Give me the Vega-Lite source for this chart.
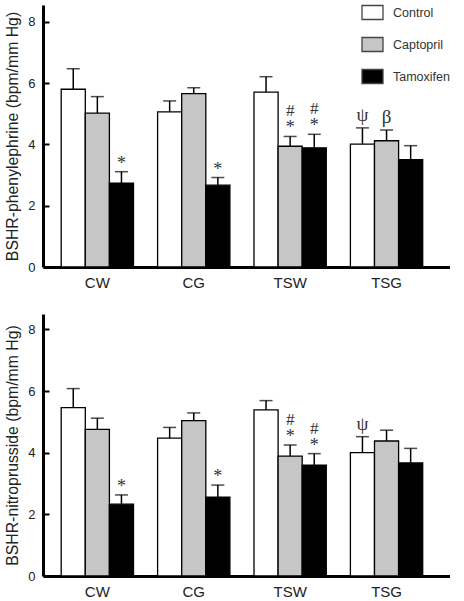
{
  "$schema": "https://vega.github.io/schema/vega-lite/v6.json",
  "padding": {"top": 1, "left": 4, "right": 0, "bottom": 0},
  "background": "white",
  "datasets": {
    "phe": [
      {"group": "CW", "treatment": "Control", "value": 5.80, "err": 6.47, "star": "", "hash": "", "greek": ""},
      {"group": "CW", "treatment": "Captopril", "value": 5.02, "err": 5.56, "star": "", "hash": "", "greek": ""},
      {"group": "CW", "treatment": "Tamoxifen", "value": 2.74, "err": 3.11, "star": "*", "hash": "", "greek": ""},
      {"group": "CG", "treatment": "Control", "value": 5.06, "err": 5.42, "star": "", "hash": "", "greek": ""},
      {"group": "CG", "treatment": "Captopril", "value": 5.66, "err": 5.85, "star": "", "hash": "", "greek": ""},
      {"group": "CG", "treatment": "Tamoxifen", "value": 2.67, "err": 2.92, "star": "*", "hash": "", "greek": ""},
      {"group": "TSW", "treatment": "Control", "value": 5.71, "err": 6.21, "star": "", "hash": "", "greek": ""},
      {"group": "TSW", "treatment": "Captopril", "value": 3.94, "err": 4.26, "star": "*", "hash": "#", "greek": ""},
      {"group": "TSW", "treatment": "Tamoxifen", "value": 3.89, "err": 4.33, "star": "*", "hash": "#", "greek": ""},
      {"group": "TSG", "treatment": "Control", "value": 4.01, "err": 4.54, "star": "", "hash": "", "greek": "ψ"},
      {"group": "TSG", "treatment": "Captopril", "value": 4.12, "err": 4.47, "star": "", "hash": "", "greek": "β"},
      {"group": "TSG", "treatment": "Tamoxifen", "value": 3.50, "err": 3.96, "star": "", "hash": "", "greek": ""}
    ],
    "nitro": [
      {"group": "CW", "treatment": "Control", "value": 5.46, "err": 6.08, "star": "", "hash": "", "greek": ""},
      {"group": "CW", "treatment": "Captopril", "value": 4.76, "err": 5.12, "star": "", "hash": "", "greek": ""},
      {"group": "CW", "treatment": "Tamoxifen", "value": 2.33, "err": 2.63, "star": "*", "hash": "", "greek": ""},
      {"group": "CG", "treatment": "Control", "value": 4.47, "err": 4.82, "star": "", "hash": "", "greek": ""},
      {"group": "CG", "treatment": "Captopril", "value": 5.04, "err": 5.29, "star": "", "hash": "", "greek": ""},
      {"group": "CG", "treatment": "Tamoxifen", "value": 2.56, "err": 2.95, "star": "*", "hash": "", "greek": ""},
      {"group": "TSW", "treatment": "Control", "value": 5.39, "err": 5.69, "star": "", "hash": "", "greek": ""},
      {"group": "TSW", "treatment": "Captopril", "value": 3.89, "err": 4.25, "star": "*", "hash": "#", "greek": ""},
      {"group": "TSW", "treatment": "Tamoxifen", "value": 3.60, "err": 3.97, "star": "*", "hash": "#", "greek": ""},
      {"group": "TSG", "treatment": "Control", "value": 4.00, "err": 4.52, "star": "", "hash": "", "greek": "ψ"},
      {"group": "TSG", "treatment": "Captopril", "value": 4.38, "err": 4.73, "star": "", "hash": "", "greek": ""},
      {"group": "TSG", "treatment": "Tamoxifen", "value": 3.67, "err": 4.14, "star": "", "hash": "", "greek": ""}
    ]
  },
  "config": {
    "view": {"stroke": null},
    "font": "Liberation Sans",
    "axis": {"grid": false, "domainColor": "black", "domainWidth": 3, "labelColor": "#222", "titleColor": "#222", "labelFont": "Liberation Sans", "titleFont": "Liberation Sans"}
  },
  "resolve": {"legend": {"fill": "independent"}},
  "spacing": 24,
  "vconcat": [
    {
      "width": 407,
      "height": 262,
      "data": {"name": "phe"},
      "encoding": {
        "x": {"field": "group", "type": "nominal", "sort": ["CW", "CG", "TSW", "TSG"],
          "scale": {"paddingInner": 0.25, "paddingOuter": 0.236, "align": 0.4},
          "axis": {"title": null, "ticks": false, "labelAngle": 0, "labelFontSize": 15, "labelPadding": 8}},
        "xOffset": {"field": "treatment", "type": "nominal", "sort": ["Control", "Captopril", "Tamoxifen"], "scale": {"paddingInner": 0, "paddingOuter": 0}}
      },
      "layer": [
        {
          "mark": {"type": "bar", "stroke": "black", "strokeWidth": 1.3},
          "encoding": {
            "y": {"field": "value", "type": "quantitative", "scale": {"domain": [0, 8.55], "nice": false},
              "axis": {"values": [0, 2, 4, 6, 8], "tickSize": -6, "tickWidth": 2, "tickColor": "black", "labelFontSize": 13, "labelPadding": 14, "title": "BSHR-phenylephrine (bpm/mm Hg)", "titleFontSize": 15.8, "titleFontWeight": "normal", "titlePadding": 7}},
            "fill": {"field": "treatment", "type": "nominal", "sort": ["Control", "Captopril", "Tamoxifen"],
              "scale": {"domain": ["Control", "Captopril", "Tamoxifen"], "range": ["white", "#c6c6c6", "black"]},
              "legend": {"title": null, "orient": "none", "legendX": 318, "legendY": -4, "padding": 0, "symbolType": "M-1,-0.667H1V0.667H-1Z", "symbolSize": 441, "symbolStrokeColor": "#444", "symbolStrokeWidth": 1.3, "labelFontSize": 12.5, "labelColor": "#333", "rowPadding": 10, "labelOffset": 9}}
          }
        },
        {
          "mark": {"type": "rule", "color": "black", "strokeWidth": 1.5},
          "encoding": {"y": {"field": "value", "type": "quantitative"}, "y2": {"field": "err"}}
        },
        {
          "mark": {"type": "tick", "color": "black", "size": 13, "thickness": 1.5},
          "encoding": {"y": {"field": "err", "type": "quantitative"}}
        },
        {
          "mark": {"type": "text", "font": "Liberation Serif", "fontSize": 18, "baseline": "bottom", "dy": 1, "color": "#333"},
          "encoding": {"y": {"field": "err", "type": "quantitative"}, "text": {"field": "star"}}
        },
        {
          "mark": {"type": "text", "font": "Liberation Serif", "fontSize": 17, "baseline": "bottom", "dy": -16, "color": "#333"},
          "encoding": {"y": {"field": "err", "type": "quantitative"}, "text": {"field": "hash"}}
        },
        {
          "mark": {"type": "text", "font": "Liberation Serif", "fontSize": 19, "baseline": "bottom", "dy": -3, "color": "#333"},
          "encoding": {"y": {"field": "err", "type": "quantitative"}, "text": {"field": "greek"}}
        }
      ]
    },
    {
      "width": 407,
      "height": 262,
      "data": {"name": "nitro"},
      "encoding": {
        "x": {"field": "group", "type": "nominal", "sort": ["CW", "CG", "TSW", "TSG"],
          "scale": {"paddingInner": 0.25, "paddingOuter": 0.236, "align": 0.4},
          "axis": {"title": null, "ticks": false, "labelAngle": 0, "labelFontSize": 15, "labelPadding": 8}},
        "xOffset": {"field": "treatment", "type": "nominal", "sort": ["Control", "Captopril", "Tamoxifen"], "scale": {"paddingInner": 0, "paddingOuter": 0}}
      },
      "layer": [
        {
          "mark": {"type": "bar", "stroke": "black", "strokeWidth": 1.3},
          "encoding": {
            "y": {"field": "value", "type": "quantitative", "scale": {"domain": [0, 8.5], "nice": false},
              "axis": {"values": [0, 2, 4, 6, 8], "tickSize": -6, "tickWidth": 2, "tickColor": "black", "labelFontSize": 13, "labelPadding": 14, "title": "BSHR-nitroprusside (bpm/mm Hg)", "titleFontSize": 15.8, "titleFontWeight": "normal", "titlePadding": 7}},
            "fill": {"field": "treatment", "type": "nominal", "sort": ["Control", "Captopril", "Tamoxifen"],
              "scale": {"domain": ["Control", "Captopril", "Tamoxifen"], "range": ["white", "#c6c6c6", "black"]},
              "legend": null}
          }
        },
        {
          "mark": {"type": "rule", "color": "black", "strokeWidth": 1.5},
          "encoding": {"y": {"field": "value", "type": "quantitative"}, "y2": {"field": "err"}}
        },
        {
          "mark": {"type": "tick", "color": "black", "size": 13, "thickness": 1.5},
          "encoding": {"y": {"field": "err", "type": "quantitative"}}
        },
        {
          "mark": {"type": "text", "font": "Liberation Serif", "fontSize": 18, "baseline": "bottom", "dy": 1, "color": "#333"},
          "encoding": {"y": {"field": "err", "type": "quantitative"}, "text": {"field": "star"}}
        },
        {
          "mark": {"type": "text", "font": "Liberation Serif", "fontSize": 17, "baseline": "bottom", "dy": -16, "color": "#333"},
          "encoding": {"y": {"field": "err", "type": "quantitative"}, "text": {"field": "hash"}}
        },
        {
          "mark": {"type": "text", "font": "Liberation Serif", "fontSize": 19, "baseline": "bottom", "dy": -3, "color": "#333"},
          "encoding": {"y": {"field": "err", "type": "quantitative"}, "text": {"field": "greek"}}
        }
      ]
    }
  ]
}
